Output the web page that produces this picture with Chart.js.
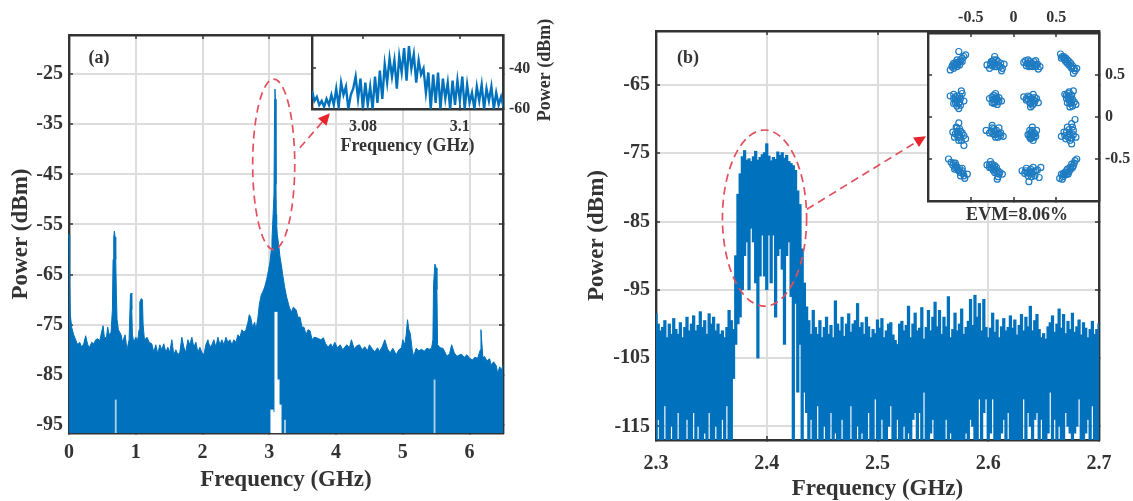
<!DOCTYPE html>
<html>
<head>
<meta charset="utf-8">
<title>Spectrum</title>
<script src="https://cdn.jsdelivr.net/npm/chart.js@4"></script>
<style>
  html, body { margin: 0; padding: 0; background: #fff; }
  body { width: 1133px; height: 501px; position: relative; overflow: hidden; }
  canvas { position: absolute; filter: blur(0.4px); }
  #panelA { left: 0; top: 0; z-index: 1; }
  #panelB { left: 566px; top: 0; z-index: 1; }
  #insetA { left: 300px; top: 10px; z-index: 2; }
  #insetB { left: 915px; top: 0; z-index: 2; }
</style>
</head>
<body>
<canvas id="panelA" width="566" height="501"></canvas>
<canvas id="panelB" width="567" height="501"></canvas>
<canvas id="insetA" width="270" height="150"></canvas>
<canvas id="insetB" width="218" height="230"></canvas>
<script>
// panel (a): upper edge of the spectrum
const freqA = [
  0, 0.01, 0.02, 0.04, 0.07, 0.10, 0.13, 0.16, 0.19, 0.22,
  0.25, 0.28, 0.31, 0.34, 0.37, 0.40, 0.43, 0.46, 0.51, 0.53,
  0.56, 0.58, 0.60, 0.63, 0.65, 0.66, 0.67, 0.68, 0.69, 0.70,
  0.71, 0.72, 0.74, 0.78, 0.80, 0.84, 0.87, 0.90, 0.92, 0.93,
  0.94, 0.95, 0.97, 1.00, 1.03, 1.05, 1.06, 1.08, 1.10, 1.11,
  1.13, 1.17, 1.20, 1.24, 1.27, 1.30, 1.33, 1.36, 1.39, 1.42,
  1.45, 1.48, 1.51, 1.54, 1.57, 1.60, 1.63, 1.66, 1.69, 1.72,
  1.75, 1.78, 1.81, 1.84, 1.87, 1.90, 1.93, 1.96, 1.99, 2.02,
  2.05, 2.08, 2.11, 2.14, 2.17, 2.20, 2.23, 2.26, 2.29, 2.32,
  2.35, 2.38, 2.41, 2.44, 2.47, 2.50, 2.53, 2.56, 2.59, 2.62,
  2.65, 2.68, 2.70, 2.72, 2.75, 2.78, 2.80, 2.83, 2.85, 2.88,
  2.90, 2.93, 2.96, 2.99, 3.01, 3.03, 3.04, 3.05, 3.07, 3.08,
  3.085, 3.09, 3.10, 3.105, 3.11, 3.12, 3.14, 3.16, 3.18, 3.20,
  3.23, 3.26, 3.30, 3.33, 3.36, 3.40, 3.43, 3.46, 3.49, 3.52,
  3.55, 3.58, 3.61, 3.64, 3.67, 3.71, 3.74, 3.77, 3.81, 3.84,
  3.88, 3.92, 3.95, 3.98, 4.02, 4.06, 4.10, 4.16, 4.20, 4.23,
  4.27, 4.31, 4.35, 4.39, 4.43, 4.47, 4.50, 4.54, 4.58, 4.62,
  4.65, 4.69, 4.73, 4.77, 4.81, 4.85, 4.90, 4.94, 4.98, 5.00,
  5.03, 5.05, 5.07, 5.09, 5.11, 5.14, 5.16, 5.20, 5.24, 5.28,
  5.32, 5.36, 5.40, 5.43, 5.45, 5.46, 5.48, 5.50, 5.51, 5.52,
  5.56, 5.60, 5.62, 5.66, 5.70, 5.73, 5.77, 5.81, 5.85, 5.88,
  5.92, 5.96, 6.00, 6.04, 6.08, 6.12, 6.16, 6.17, 6.18, 6.20,
  6.22, 6.26, 6.30, 6.32, 6.36, 6.40, 6.42, 6.45, 6.48, 6.50
];
const powerA = [
  -57, -66, -73, -75.5, -77, -78, -79, -78.5, -79.5, -78.8,
  -77.2, -79, -79.5, -78.5, -78.8, -78, -77.8, -78.2, -75.2, -77.5,
  -77.6, -75.5, -77, -76.5, -72, -62, -57.5, -56.3, -57.5, -62,
  -69, -74, -76, -77, -78.5, -77, -80, -78, -69, -68.7,
  -72, -77, -78.5, -77.5, -78, -76, -70.5, -69.8, -70, -75,
  -78, -77.5, -78.5, -78.8, -80.5, -79, -80.8, -79, -80, -78.8,
  -80.5, -79.5, -80.5, -78, -81, -80, -81, -80.5, -77.5, -79.5,
  -80.5, -78, -79, -77.5, -79.5, -78.5, -80.5, -79.5, -80.5, -81,
  -79, -78, -79.5, -79, -78, -79.5, -77.5, -79, -78, -79,
  -77.5, -78.5, -78, -79, -78, -78.5, -77, -77.5, -76, -76.5,
  -76, -74.5, -73, -73.5, -75.5, -74.5, -76, -73.5, -71, -69,
  -68.5, -67.5, -66, -64, -62.5, -60, -58, -55, -49, -30,
  -28, -30, -47, -53, -55, -57, -59, -61.5, -63, -65,
  -67.5, -69.5, -71.5, -72.5, -71.5, -72, -73.5, -73.5, -75.5, -75.5,
  -77, -76, -76.2, -78, -77.5, -77.6, -77.8, -78, -77.6, -78.7,
  -79.5, -78.8, -79.5, -78.5, -79.6, -79, -80, -79, -79.6, -78,
  -79.8, -79.2, -79, -80, -79.4, -80.2, -79, -79.8, -80.4, -79.6,
  -80.3, -79.4, -78, -79.8, -80.6, -79.7, -81, -80, -79.6, -78,
  -79, -77, -74, -76, -76.7, -80, -81.3, -79.7, -80.2, -79.9,
  -80.3, -79.7, -79.9, -79.7, -78, -67, -62.9, -63.7, -68, -79,
  -79.6, -79.7, -80.2, -81.3, -80.8, -79, -80.6, -81.3, -81, -80.9,
  -81.5, -81, -81.7, -82, -81.5, -81.7, -80, -76, -78, -81.7,
  -81.3, -82.2, -81.8, -83, -82.4, -83.2, -84.7, -83.4, -84, -83
];
// panel (a): blank and pale slots cut out of the filled area
const gapFreqA = [3.04, 3.07, 3.10, 3.13, 3.16];
const gapLowA = [-97, -97, -97, -97, -97];
const gapHighA = [-92, -92.5, -72.5, -86, -91];
const slitFreqA = [0.70, 3.235, 5.475];
const slitLowA = [-97, -97, -97];
const slitHighA = [-90, -94, -86];
const xTicksA = [0, 1, 2, 3, 4, 5, 6];
const yTicksA = [-25, -35, -45, -55, -65, -75, -85, -95];

// inset of (a): zoomed trace, zigzagging between its highs and lows
const freqInsetA = [
  3.0695, 3.0700, 3.0705, 3.0710, 3.0715, 3.0720, 3.0725, 3.0730, 3.0735, 3.0740,
  3.0745, 3.0750, 3.0755, 3.0760, 3.0765, 3.0770, 3.0775, 3.0780, 3.0785, 3.0790,
  3.0795, 3.0800, 3.0805, 3.0810, 3.0815, 3.0820, 3.0825, 3.0830, 3.0835, 3.0840,
  3.0845, 3.0850, 3.0855, 3.0860, 3.0865, 3.0870, 3.0875, 3.0880, 3.0885, 3.0890,
  3.0895, 3.0900, 3.0905, 3.0910, 3.0915, 3.0920, 3.0925, 3.0930, 3.0935, 3.0940,
  3.0945, 3.0950, 3.0955, 3.0960, 3.0965, 3.0970, 3.0975, 3.0980, 3.0985, 3.0990,
  3.0995, 3.1000, 3.1005, 3.1010, 3.1015, 3.1020, 3.1025, 3.1030, 3.1035, 3.1040,
  3.1045, 3.1050, 3.1055, 3.1060, 3.1065, 3.1070, 3.1075, 3.1080, 3.1085, 3.1090
];
const powerInsetA = [
  -51, -56, -54, -58, -56, -59, -55, -58, -53, -58,
  -50, -59, -47, -53, -49, -60, -53, -50, -44, -55,
  -45, -60, -47, -58, -49, -60, -44, -57, -41, -55,
  -38, -47, -35, -44, -36, -50, -34, -42, -30, -46,
  -29, -40, -33, -47, -36, -43, -40, -52, -42, -60,
  -43, -57, -42, -60, -45, -55, -47, -60, -46, -58,
  -46, -56, -44, -60, -48, -57, -52, -60, -49, -56,
  -48, -60, -50, -56, -49, -60, -52, -58, -54, -59
];
const xTicksInsetA = [3.08, 3.1];
const yTicksInsetA = [-40, -60];

// panel (b): one low/high pair per frequency bin
const freqB = [
  2.300, 2.302, 2.304, 2.306, 2.308, 2.310, 2.312, 2.314, 2.316, 2.318,
  2.320, 2.322, 2.324, 2.326, 2.328, 2.330, 2.332, 2.334, 2.336, 2.338,
  2.340, 2.342, 2.344, 2.346, 2.348, 2.350, 2.352, 2.354, 2.356, 2.358,
  2.360, 2.362, 2.364, 2.366, 2.368, 2.370, 2.372, 2.374, 2.376, 2.378,
  2.380, 2.382, 2.384, 2.386, 2.388, 2.390, 2.392, 2.394, 2.396, 2.398,
  2.400, 2.402, 2.404, 2.406, 2.408, 2.410, 2.412, 2.414, 2.416, 2.418,
  2.420, 2.422, 2.424, 2.426, 2.428, 2.430, 2.432, 2.434, 2.436, 2.438,
  2.440, 2.442, 2.444, 2.446, 2.448, 2.450, 2.452, 2.454, 2.456, 2.458,
  2.460, 2.462, 2.464, 2.466, 2.468, 2.470, 2.472, 2.474, 2.476, 2.478,
  2.480, 2.482, 2.484, 2.486, 2.488, 2.490, 2.492, 2.494, 2.496, 2.498,
  2.500, 2.502, 2.504, 2.506, 2.508, 2.510, 2.512, 2.514, 2.516, 2.518,
  2.520, 2.522, 2.524, 2.526, 2.528, 2.530, 2.532, 2.534, 2.536, 2.538,
  2.540, 2.542, 2.544, 2.546, 2.548, 2.550, 2.552, 2.554, 2.556, 2.558,
  2.560, 2.562, 2.564, 2.566, 2.568, 2.570, 2.572, 2.574, 2.576, 2.578,
  2.580, 2.582, 2.584, 2.586, 2.588, 2.590, 2.592, 2.594, 2.596, 2.598,
  2.600, 2.602, 2.604, 2.606, 2.608, 2.610, 2.612, 2.614, 2.616, 2.618,
  2.620, 2.622, 2.624, 2.626, 2.628, 2.630, 2.632, 2.634, 2.636, 2.638,
  2.640, 2.642, 2.644, 2.646, 2.648, 2.650, 2.652, 2.654, 2.656, 2.658,
  2.660, 2.662, 2.664, 2.666, 2.668, 2.670, 2.672, 2.674, 2.676, 2.678,
  2.680, 2.682, 2.684, 2.686, 2.688, 2.690, 2.692, 2.694, 2.696, 2.698,
  2.700
];
const highB = [
  -98.5, -100, -101, -100.5, -99.5, -102, -100, -101.5, -99.2, -100.8,
  -101.5, -99.8, -102, -100.5, -99, -101, -100, -98.8, -101, -100.2,
  -98.2, -100.5, -99.5, -101.5, -98.5, -100, -99, -101, -100, -101.5,
  -101, -102, -100.5, -98, -99.5, -100.8, -90, -81, -78, -75.5,
  -74.6, -76, -75.8, -76.2, -75.5, -74.7, -76, -75.6, -75.2, -74.9,
  -73.6, -75.4, -76.1, -75.6, -75.9, -74.8, -75.3, -74.9, -75.7, -75.3,
  -76.2, -76.5, -76.8, -77.5, -80.5, -82.5, -89, -94, -97.5, -99.5,
  -101.5, -98, -100.5, -101.5, -99.5, -102, -100.5, -99, -101.5, -100.2,
  -102, -96.6, -100, -101, -99, -101.8, -100, -98.5, -101.2, -100,
  -99.5, -97, -100.5, -99.8, -101.5, -99, -100.4, -102, -100.8, -101.4,
  -99.4, -100.6, -99.2, -102, -101, -100, -99.8, -101.6, -102.4, -103,
  -100, -99.6, -101, -100.2, -97.4, -102, -100, -98.4, -101, -100.6,
  -97.6, -102.2, -100.5, -98, -101, -99, -96.8, -100.4, -98, -101.5,
  -99, -100.4, -96, -102, -100.8, -98.4, -101, -100, -97.8, -101.5,
  -100.5, -99.6, -96.4, -100.2, -95.8, -99, -97, -101, -96.4, -100.5,
  -102, -100.6, -98.4, -101.2, -99.4, -102, -100.4, -99.2, -101, -100.5,
  -98.8, -100.6, -99.4, -101.6, -100.2, -98.6, -101, -99, -100.4, -97.4,
  -101, -99.5, -98.6, -100.8, -102, -101.4, -102.2, -100.4, -99.8, -98.8,
  -101.2, -100, -97.8, -100.6, -98.6, -101.4, -99.6, -100.8, -98.4, -101.2,
  -100.4, -99.4, -101.6, -99.8, -100.6, -102, -100.8, -99.6, -101.5, -100.8,
  -100
];
const lowB = [
  -117, -114, -117, -117, -112, -117, -117, -115, -117, -117,
  -113, -117, -117, -117, -114, -117, -117, -113, -117, -115,
  -117, -117, -116, -117, -113, -117, -117, -115, -117, -117,
  -114, -117, -112, -117, -117, -108, -103, -100, -99, -95,
  -90, -88, -95, -86, -88, -94, -105, -93, -87, -93,
  -95, -87, -94, -87, -99, -90, -89, -92, -103, -90,
  -88, -96, -117, -97, -110, -103, -117, -110, -113, -117,
  -114, -117, -117, -112, -117, -117, -115, -117, -117, -113,
  -117, -116, -117, -117, -114, -117, -117, -117, -112, -117,
  -117, -115, -117, -116, -117, -117, -113, -117, -117, -111,
  -117, -117, -114, -117, -117, -115, -112, -117, -117, -114,
  -117, -117, -115, -117, -116, -117, -114, -113, -117, -113,
  -117, -110, -117, -117, -116, -114, -117, -117, -117, -117,
  -117, -114, -117, -116, -117, -117, -117, -117, -117, -117,
  -116, -117, -114, -115, -117, -117, -111, -117, -113, -111,
  -117, -116, -111, -117, -117, -117, -116, -114, -117, -113,
  -117, -117, -117, -117, -117, -117, -111, -117, -113, -115,
  -117, -114, -113, -117, -114, -117, -117, -116, -110, -117,
  -114, -117, -115, -117, -117, -113, -115, -116, -117, -116,
  -115, -111, -117, -117, -116, -114, -117, -112, -117, -117,
  -117
];
const xTicksB = [2.3, 2.4, 2.5, 2.6, 2.7];
const yTicksB = [-65, -75, -85, -95, -105, -115];

// inset of (b): 16QAM constellation, points grouped row by row
const constI = [
  -0.74, -0.72, -0.70, -0.68, -0.66, -0.64, -0.62, -0.60, -0.58, -0.56, -0.64, -0.70,
  -0.69, -0.67, -0.65, -0.63, -0.62, -0.60, -0.66, -0.71,
  -0.31, -0.28, -0.25, -0.22, -0.20, -0.18, -0.15, -0.13, -0.11, -0.22, -0.14, -0.25,
  -0.27, -0.24, -0.22, -0.20, -0.18, -0.16, -0.26, -0.23,
  0.12, 0.15, 0.17, 0.20, 0.22, 0.24, 0.27, 0.29, 0.31, 0.18, 0.26, 0.14,
  0.16, 0.18, 0.20, 0.22, 0.24, 0.26, 0.19, 0.28,
  0.55, 0.57, 0.59, 0.61, 0.63, 0.65, 0.67, 0.69, 0.72, 0.74, 0.70, 0.56,
  0.59, 0.61, 0.63, 0.65, 0.67, 0.68, 0.71, 0.60,
  -0.74, -0.70, -0.68, -0.66, -0.64, -0.62, -0.60, -0.58, -0.66, -0.70, -0.61, -0.64,
  -0.70, -0.68, -0.66, -0.65, -0.63, -0.63, -0.68, -0.62,
  -0.28, -0.25, -0.23, -0.21, -0.19, -0.17, -0.14, -0.21, -0.24, -0.18,
  -0.25, -0.23, -0.22, -0.20, -0.19, -0.17, -0.23, -0.21,
  0.12, 0.15, 0.17, 0.19, 0.21, 0.23, 0.25, 0.27, 0.29, 0.20, 0.22,
  0.15, 0.17, 0.19, 0.21, 0.23, 0.25, 0.20, 0.24,
  0.60, 0.62, 0.63, 0.65, 0.66, 0.68, 0.69, 0.70, 0.71, 0.73, 0.66,
  0.62, 0.64, 0.65, 0.67, 0.68, 0.69, 0.66, 0.64,
  -0.71, -0.69, -0.67, -0.65, -0.64, -0.62, -0.61, -0.58, -0.56, -0.58, -0.63,
  -0.68, -0.66, -0.65, -0.63, -0.62, -0.60, -0.64, -0.66,
  -0.32, -0.28, -0.25, -0.22, -0.20, -0.18, -0.15, -0.12, -0.25, -0.17,
  -0.26, -0.24, -0.22, -0.21, -0.19, -0.17, -0.23, -0.15,
  0.17, 0.19, 0.21, 0.22, 0.24, 0.26, 0.27, 0.21, 0.23,
  0.19, 0.20, 0.22, 0.22, 0.24, 0.25, 0.20, 0.19,
  0.56, 0.59, 0.61, 0.63, 0.65, 0.66, 0.68, 0.70, 0.72, 0.73, 0.68,
  0.60, 0.62, 0.64, 0.65, 0.66, 0.68, 0.69, 0.70,
  -0.76, -0.73, -0.71, -0.68, -0.66, -0.64, -0.62, -0.59, -0.57, -0.54, -0.60, -0.69,
  -0.70, -0.67, -0.65, -0.63, -0.62, -0.60, -0.58, -0.68,
  -0.31, -0.28, -0.27, -0.24, -0.22, -0.20, -0.18, -0.16, -0.13, -0.19, -0.25,
  -0.28, -0.26, -0.24, -0.22, -0.20, -0.18, -0.17, -0.22,
  0.10, 0.13, 0.15, 0.17, 0.19, 0.21, 0.23, 0.25, 0.18, 0.28, 0.30, 0.32,
  0.14, 0.16, 0.18, 0.20, 0.22, 0.24, 0.26, 0.21,
  0.54, 0.56, 0.58, 0.60, 0.62, 0.64, 0.66, 0.68, 0.70, 0.72, 0.74, 0.57,
  0.58, 0.60, 0.62, 0.63, 0.65, 0.67, 0.69, 0.71
];
const constQ = [
  0.56, 0.60, 0.58, 0.62, 0.60, 0.65, 0.66, 0.70, 0.72, 0.74, 0.78, 0.64,
  0.61, 0.65, 0.63, 0.62, 0.68, 0.66, 0.68, 0.62,
  0.62, 0.58, 0.66, 0.60, 0.68, 0.62, 0.64, 0.58, 0.63, 0.72, 0.55, 0.61,
  0.63, 0.64, 0.64, 0.60, 0.66, 0.60, 0.66, 0.68,
  0.65, 0.61, 0.68, 0.64, 0.60, 0.66, 0.62, 0.57, 0.60, 0.60, 0.67, 0.67,
  0.64, 0.63, 0.61, 0.64, 0.62, 0.60, 0.66, 0.63,
  0.75, 0.72, 0.70, 0.66, 0.68, 0.62, 0.60, 0.61, 0.55, 0.58, 0.52, 0.70,
  0.72, 0.70, 0.64, 0.66, 0.64, 0.58, 0.58, 0.68,
  0.25, 0.27, 0.20, 0.25, 0.16, 0.22, 0.28, 0.19, 0.13, 0.16, 0.31, 0.10,
  0.22, 0.24, 0.19, 0.22, 0.25, 0.18, 0.17, 0.14,
  0.22, 0.17, 0.26, 0.20, 0.15, 0.23, 0.19, 0.28, 0.21, 0.18,
  0.24, 0.21, 0.18, 0.24, 0.21, 0.19, 0.16, 0.22,
  0.24, 0.20, 0.25, 0.17, 0.22, 0.27, 0.19, 0.22, 0.17, 0.12, 0.14,
  0.22, 0.21, 0.24, 0.19, 0.21, 0.23, 0.16, 0.16,
  0.27, 0.22, 0.17, 0.30, 0.20, 0.26, 0.13, 0.31, 0.18, 0.15, 0.12,
  0.26, 0.24, 0.20, 0.23, 0.17, 0.21, 0.16, 0.28,
  -0.18, -0.24, -0.12, -0.21, -0.07, -0.17, -0.28, -0.22, -0.26, -0.34, -0.14,
  -0.20, -0.17, -0.24, -0.21, -0.25, -0.19, -0.28, -0.13,
  -0.16, -0.19, -0.13, -0.21, -0.16, -0.24, -0.19, -0.23, -0.10, -0.13,
  -0.17, -0.20, -0.17, -0.24, -0.20, -0.20, -0.14, -0.22,
  -0.21, -0.16, -0.25, -0.12, -0.19, -0.23, -0.16, -0.18, -0.28,
  -0.20, -0.23, -0.21, -0.16, -0.24, -0.20, -0.26, -0.24,
  -0.23, -0.18, -0.26, -0.12, -0.20, -0.28, -0.08, -0.16, -0.03, -0.24, -0.32,
  -0.22, -0.18, -0.24, -0.15, -0.21, -0.25, -0.12, -0.21,
  -0.50, -0.54, -0.57, -0.55, -0.60, -0.64, -0.70, -0.67, -0.73, -0.68, -0.61, -0.62,
  -0.55, -0.58, -0.63, -0.61, -0.66, -0.64, -0.70, -0.60,
  -0.57, -0.60, -0.53, -0.63, -0.66, -0.60, -0.71, -0.66, -0.68, -0.74, -0.56,
  -0.57, -0.60, -0.59, -0.62, -0.65, -0.64, -0.68, -0.58,
  -0.64, -0.67, -0.61, -0.70, -0.64, -0.66, -0.60, -0.70, -0.77, -0.63, -0.72, -0.60,
  -0.64, -0.66, -0.67, -0.62, -0.68, -0.65, -0.64, -0.71,
  -0.73, -0.68, -0.71, -0.66, -0.64, -0.68, -0.60, -0.56, -0.58, -0.52, -0.50, -0.74,
  -0.68, -0.69, -0.68, -0.62, -0.65, -0.62, -0.60, -0.55
];
const xTicksInsetB = [-0.5, 0, 0.5];
const yTicksInsetB = [0.5, 0, -0.5];

const BLUE = '#0072BD';
const RED = '#e2505f';
const INK = '#333333';
const GRID = '#dddddd';
const SERIF = "'Liberation Serif'";

// one side of a plot box; box size comes from the fixed thickness
function side(axis, position, min, max, tickValues, thickness, extra) {
    extra = extra || {};
    return {
        type: 'linear',
        axis: axis,
        position: position,
        min: min,
        max: max,
        offset: false,
        afterBuildTicks: s => { s.ticks = tickValues.map(v => ({ value: v })); },
        afterFit: s => {
            if (axis === 'x') s.height = thickness; else s.width = thickness;
            s.paddingLeft = s.paddingRight = s.paddingTop = s.paddingBottom = 0;
        },
        grid: {
            display: true,
            offset: false,
            drawOnChartArea: !!extra.grid,
            color: GRID,
            lineWidth: 2,
            tickLength: -4,
            tickColor: INK,
            tickWidth: 1.5
        },
        border: { color: INK, width: 2.4 },
        ticks: {
            display: !!extra.font,
            autoSkip: false,
            maxRotation: 0,
            minRotation: 0,
            padding: extra.pad || 0,
            color: INK,
            font: { family: SERIF, weight: 'bold', size: extra.font || 12 },
            callback: v => String(v)
        },
        title: extra.title ? {
            display: true,
            text: extra.title,
            color: INK,
            font: { family: SERIF, weight: 'bold', size: extra.titleSize || 23, lineHeight: 1 },
            padding: extra.titlePad
        } : { display: false }
    };
}

// white plot background, dashed ellipse, dashed arrow and loose labels
function decor(o) {
    return {
        id: 'decor',
        beforeDraw(chart) {
            if (!o.white) return;
            const a = chart.chartArea;
            chart.ctx.fillStyle = '#fff';
            chart.ctx.fillRect(a.left, a.top, a.right - a.left, a.bottom - a.top);
        },
        afterDraw(chart) {
            const ctx = chart.ctx, x = chart.scales.x, y = chart.scales.y;
            ctx.save();
            if (o.ellipse) {
                const e = o.ellipse;
                const cx = x.getPixelForValue(e.x), cy = y.getPixelForValue(e.y);
                const rx = x.getPixelForValue(e.x + e.rx) - cx, ry = cy - y.getPixelForValue(e.y + e.ry);
                ctx.strokeStyle = RED;
                ctx.lineWidth = 1.7;
                ctx.setLineDash([8, 5]);
                ctx.beginPath();
                ctx.ellipse(cx, cy, rx, ry, 0, 0, Math.PI * 2);
                ctx.stroke();
            }
            if (o.arrow) {
                const r = o.arrow;
                const x1 = x.getPixelForValue(r.x1), y1 = y.getPixelForValue(r.y1);
                const x2 = x.getPixelForValue(r.x2), y2 = y.getPixelForValue(r.y2);
                const ang = Math.atan2(y2 - y1, x2 - x1);
                ctx.strokeStyle = RED;
                ctx.lineWidth = 1.7;
                ctx.setLineDash([8, 5]);
                ctx.beginPath();
                ctx.moveTo(x1, y1);
                ctx.lineTo(x2 - 8 * Math.cos(ang), y2 - 8 * Math.sin(ang));
                ctx.stroke();
                ctx.setLineDash([]);
                ctx.fillStyle = '#e8242c';
                ctx.beginPath();
                ctx.moveTo(x2, y2);
                ctx.lineTo(x2 - 13 * Math.cos(ang - 0.45), y2 - 13 * Math.sin(ang - 0.45));
                ctx.lineTo(x2 - 13 * Math.cos(ang + 0.45), y2 - 13 * Math.sin(ang + 0.45));
                ctx.fill();
            }
            (o.texts || []).forEach(t => {
                ctx.save();
                ctx.translate(t.x, t.y);
                if (t.rotate) ctx.rotate(t.rotate);
                ctx.fillStyle = INK;
                ctx.font = 'bold ' + t.size + 'px ' + SERIF;
                ctx.textAlign = 'center';
                ctx.textBaseline = 'middle';
                ctx.fillText(t.text, 0, 0);
                ctx.restore();
            });
            ctx.restore();
        }
    };
}

function pairs(xs, ys) { return xs.map((v, i) => ({ x: v, y: ys[i] })); }
function bars(xs, lows, highs) { return xs.map((v, i) => ({ x: v, y: [lows[i], highs[i]] })); }

const common = {
    responsive: false,
    animation: false,
    events: [],
    plugins: { legend: { display: false }, tooltip: { enabled: false } }
};

new Chart(document.getElementById('panelA'), {
    type: 'line',
    data: {
        datasets: [
            { data: pairs(freqA, powerA), borderColor: BLUE, backgroundColor: BLUE, borderWidth: 1, pointRadius: 0, tension: 0, fill: 'start', clip: 2, order: 2 },
            { type: 'bar', data: bars(gapFreqA, gapLowA, gapHighA), backgroundColor: '#ffffff', barThickness: 2.4, grouped: false, order: 1 },
            { type: 'bar', data: bars(slitFreqA, slitLowA, slitHighA), backgroundColor: '#a9cfe9', barThickness: 1.2, grouped: false, order: 1 }
        ]
    },
    options: {
        ...common,
        layout: { padding: { left: 0, top: 35, right: 63, bottom: 0 } },
        scales: {
            x: side('x', 'bottom', 0, 6.5, xTicksA, 68, { grid: true, font: 20, pad: 12, title: 'Frequency (GHz)', titlePad: { top: 0, bottom: 9 } }),
            y: side('y', 'left', -96.6, -17.2, yTicksA, 69, { grid: true, font: 20, pad: 10, title: 'Power (dBm)', titlePad: { top: 10, bottom: 0 } }),
            xTop: side('x', 'top', 0, 6.5, xTicksA, 0),
            yRight: side('y', 'right', -96.6, -17.2, yTicksA, 0)
        }
    },
    plugins: [decor({
        ellipse: { x: 3.066, y: -43, rx: 0.315, ry: 17 },
        arrow: { x1: 3.458, y1: -39.7, x2: 3.907, y2: -32.8 },
        texts: [{ text: '(a)', x: 99, y: 58, size: 18 }]
    })]
});

new Chart(document.getElementById('panelB'), {
    type: 'bar',
    data: {
        datasets: [
            { data: bars(freqB, lowB, highB), backgroundColor: BLUE, barThickness: 2.6, grouped: false }
        ]
    },
    options: {
        ...common,
        layout: { padding: { left: 0, top: 31, right: 34, bottom: 0 } },
        scales: {
            x: side('x', 'bottom', 2.3, 2.7, xTicksB, 61, { grid: true, font: 20, pad: 16, title: 'Frequency (GHz)', titlePad: { top: 0, bottom: 0 } }),
            y: side('y', 'left', -117, -57.1, yTicksB, 90, { grid: true, font: 20, pad: 10, title: 'Power (dBm)', titlePad: { top: 20, bottom: 0 } }),
            xTop: side('x', 'top', 2.3, 2.7, xTicksB, 0),
            yRight: side('y', 'right', -117, -57.1, yTicksB, 0)
        }
    },
    plugins: [decor({
        ellipse: { x: 2.398, y: -84.5, rx: 0.038, ry: 12.9 },
        arrow: { x1: 2.4363, y1: -83.2, x2: 2.5438, y2: -72.5 },
        texts: [{ text: '(b)', x: 122, y: 58, size: 18 }]
    })]
});

new Chart(document.getElementById('insetA'), {
    type: 'line',
    data: {
        datasets: [
            { data: pairs(freqInsetA, powerInsetA), borderColor: BLUE, borderWidth: 2.4, pointRadius: 0, tension: 0 }
        ]
    },
    options: {
        ...common,
        layout: { padding: { left: 12, top: 25, right: 0, bottom: 0 } },
        scales: {
            x: side('x', 'bottom', 3.0695, 3.1089, xTicksInsetA, 51, { font: 16, pad: 12, title: 'Frequency (GHz)', titleSize: 18, titlePad: { top: 0, bottom: 5 } }),
            y: side('y', 'right', -60, -23.5, yTicksInsetA, 67, { font: 16, pad: 10 }),
            xTop: side('x', 'top', 3.0695, 3.1089, xTicksInsetA, 0),
            yLeft: side('y', 'left', -60, -23.5, yTicksInsetA, 0)
        }
    },
    plugins: [decor({
        white: true,
        texts: [{ text: 'Power (dBm)', x: 245, y: 60, size: 18, rotate: -Math.PI / 2 }]
    })]
});

new Chart(document.getElementById('insetB'), {
    type: 'scatter',
    data: {
        datasets: [
            { data: pairs(constI, constQ), borderColor: '#1f7cc2', backgroundColor: 'rgba(0,0,0,0)', borderWidth: 1.2, pointRadius: 3 }
        ]
    },
    options: {
        ...common,
        layout: { padding: { left: 13, top: 0, right: 0, bottom: 29 } },
        scales: {
            x: side('x', 'top', -1, 1, xTicksInsetB, 33, { font: 16, pad: 10 }),
            y: side('y', 'right', -1, 1, yTicksInsetB, 34, { font: 16, pad: 10 }),
            xBottom: side('x', 'bottom', -1, 1, xTicksInsetB, 0),
            yLeft: side('y', 'left', -1, 1, yTicksInsetB, 0)
        }
    },
    plugins: [decor({
        white: true,
        texts: [{ text: 'EVM=8.06%', x: 102, y: 215, size: 18 }]
    })]
});
</script>
</body>
</html>
